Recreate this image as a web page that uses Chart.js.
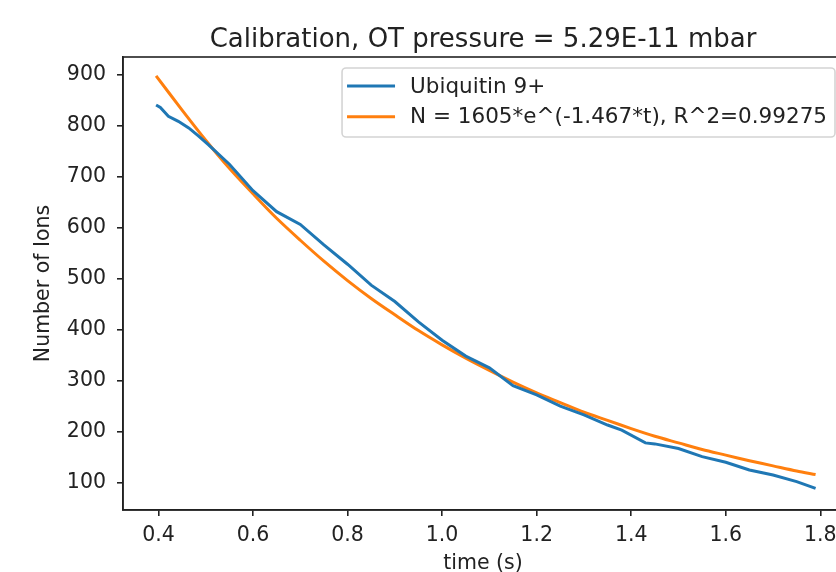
<!DOCTYPE html>
<html>
<head>
<meta charset="utf-8">
<script src="https://cdn.jsdelivr.net/npm/chart.js@4"></script>
<style>
  html, body { margin: 0; padding: 0; background: #fff; overflow: hidden; }
  #wrap { width: 860px; height: 580px; }
</style>
</head>
<body>
<div id="wrap"><canvas id="myChart" width="860" height="580"></canvas></div>
<script>
// measured trace (Ubiquitin 9+)
var timeMeas = [0.395, 0.404, 0.421, 0.442, 0.464, 0.485, 0.506, 0.55, 0.60, 0.65, 0.70, 0.75, 0.80, 0.85, 0.90, 0.95, 1.00,
                1.05, 1.10, 1.15, 1.20, 1.25, 1.30, 1.35, 1.38, 1.43, 1.45, 1.50, 1.55, 1.60, 1.65, 1.70, 1.75, 1.79];
var ionsMeas = [840, 835, 818, 808, 795, 779, 762, 724, 672, 631, 606, 566, 528, 487, 455, 415, 379,
                348, 325, 290, 272, 250, 233, 213, 203, 178, 176, 167, 151, 140, 125, 115, 102, 89];

// exponential fit curve
var timeFit = [0.395, 0.45, 0.50, 0.55, 0.60, 0.65, 0.70, 0.75, 0.80, 0.85, 0.90, 0.95, 1.00, 1.05, 1.10,
               1.15, 1.20, 1.25, 1.30, 1.35, 1.40, 1.45, 1.50, 1.55, 1.60, 1.65, 1.70, 1.75, 1.79];
var ionsFit = [897, 830, 771, 716, 666, 618, 575, 534, 496, 461, 429, 398, 370, 344, 320,
               297, 276, 257, 238, 222, 206, 191, 178, 165, 154, 143, 133, 123, 116];

var xTicks = [0.4, 0.6, 0.8, 1.0, 1.2, 1.4, 1.6, 1.8];
var yTicks = [100, 200, 300, 400, 500, 600, 700, 800, 900];

var titleText = 'Calibration, OT pressure = 5.29E-11 mbar';
var labelMeas = 'Ubiquitin 9+';
var labelFit = 'N = 1605*e^(-1.467*t), R^2=0.99275';

var FONT = '"DejaVu Sans", sans-serif';

function pts(xs, ys) {
    return xs.map(function (x, i) { return { x: x, y: ys[i] }; });
}

// all four spines + title centred over the axes, like matplotlib
var frame = {
    id: 'frame',
    afterDraw: function (chart) {
        var a = chart.chartArea, c = chart.ctx;
        c.save();
        c.strokeStyle = '#222';
        c.lineWidth = 1.6;
        c.strokeRect(Math.round(a.left), Math.round(a.top),
                     Math.round(a.right - a.left), Math.round(a.bottom - a.top));
        c.fillStyle = '#222';
        c.font = '26px ' + FONT;
        c.textAlign = 'center';
        c.textBaseline = 'alphabetic';
        c.fillText(titleText, (a.left + a.right) / 2, a.top - 10);
        c.restore();
    }
};

// legend box in the upper right of the axes
var boxLegend = {
    id: 'boxLegend',
    afterDraw: function (chart) {
        var a = chart.chartArea, c = chart.ctx;
        var sets = chart.data.datasets;
        c.save();
        c.font = '21.5px ' + FONT;
        var tw = 0;
        sets.forEach(function (d) { tw = Math.max(tw, c.measureText(d.label).width); });
        var w = tw + 76, h = 69;
        var right = a.right - 8, L = right - w, T = a.top + 11;
        c.fillStyle = 'rgba(255,255,255,0.8)';
        c.strokeStyle = '#d4d4d4';
        c.lineWidth = 1.6;
        c.beginPath();
        if (c.roundRect) c.roundRect(L, T, w, h, 4); else c.rect(L, T, w, h);
        c.fill();
        c.stroke();
        sets.forEach(function (d, i) {
            var y = T + 18 + i * 30.7;
            c.strokeStyle = d.borderColor;
            c.lineWidth = 3;
            c.beginPath();
            c.moveTo(L + 5, y);
            c.lineTo(L + 53, y);
            c.stroke();
            c.fillStyle = '#222';
            c.textBaseline = 'middle';
            c.fillText(d.label, L + 68, y + 1);
        });
        c.restore();
    }
};

var ctx = document.getElementById('myChart').getContext('2d');
var chart = new Chart(ctx, {
    type: 'line',
    data: {
        datasets: [{
            label: labelMeas,
            data: pts(timeMeas, ionsMeas),
            borderColor: '#1f77b4',
            borderWidth: 3,
            pointRadius: 0,
            tension: 0
        }, {
            label: labelFit,
            data: pts(timeFit, ionsFit),
            borderColor: '#ff7f0e',
            borderWidth: 3,
            pointRadius: 0,
            tension: 0.3
        }]
    },
    options: {
        responsive: false,
        animation: false,
        layout: { padding: { left: 0, right: 17, top: 57, bottom: 0 } },
        plugins: {
            legend: { display: false },
            tooltip: { enabled: false },
            title: { display: false }
        },
        scales: {
            x: {
                type: 'linear',
                min: 0.325,
                max: 1.848,
                afterBuildTicks: function (s) { s.ticks = xTicks.map(function (v) { return { value: v }; }); },
                afterFit: function (s) { s.height = 70; },
                grid: { drawOnChartArea: false, drawTicks: true, tickLength: 6, color: '#222', lineWidth: 1.6 },
                border: { display: true, color: '#222', width: 1.6 },
                ticks: {
                    color: '#222',
                    padding: 7,
                    maxRotation: 0,
                    font: { family: FONT, size: 20.5 },
                    callback: function (v) { return v.toFixed(1); }
                },
                title: {
                    display: true,
                    text: 'time (s)',
                    color: '#222',
                    font: { family: FONT, size: 20.5 },
                    padding: { top: 0, bottom: 4 }
                }
            },
            y: {
                min: 46.5,
                max: 934,
                afterBuildTicks: function (s) { s.ticks = yTicks.map(function (v) { return { value: v }; }); },
                afterFit: function (s) { s.width = 123; },
                grid: { drawOnChartArea: false, drawTicks: true, tickLength: 6, color: '#222', lineWidth: 1.6 },
                border: { display: true, color: '#222', width: 1.6 },
                ticks: {
                    color: '#222',
                    padding: 11,
                    font: { family: FONT, size: 20.5 }
                },
                title: {
                    display: true,
                    text: 'Number of Ions',
                    color: '#222',
                    font: { family: FONT, size: 20.5 },
                    padding: { top: 31, bottom: 0 }
                }
            }
        }
    },
    plugins: [frame, boxLegend]
});
</script>
</body>
</html>
